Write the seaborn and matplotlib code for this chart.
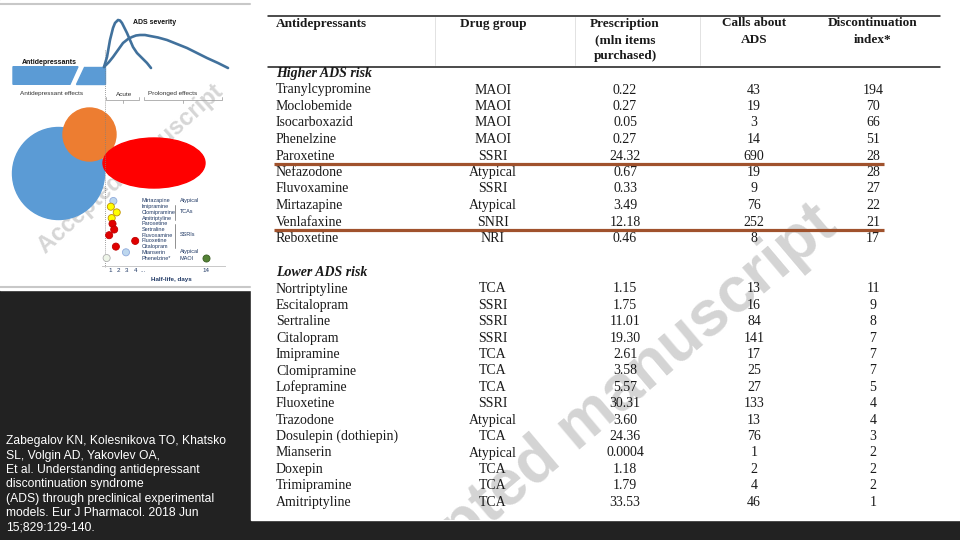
import matplotlib
matplotlib.use("Agg")
import matplotlib.pyplot as plt
import seaborn as sns
import pandas as pd
from matplotlib.patches import Rectangle, Circle, Ellipse, Polygon

# ── Table data ───────────────────────────────────────────────────────────────
header_lines = [["Antidepressants"], ["Drug group"],
                ["Prescription", "(mln items", "purchased)"],
                ["Calls about", "ADS"], ["Discontinuation", "index*"]]

higher_names = ["Tranylcypromine", "Moclobemide", "Isocarboxazid", "Phenelzine",
                "Paroxetine", "Nefazodone", "Fluvoxamine", "Mirtazapine",
                "Venlafaxine", "Reboxetine"]
higher_groups = ["MAOI", "MAOI", "MAOI", "MAOI", "SSRI", "Atypical", "SSRI",
                 "Atypical", "SNRI", "NRI"]
higher_rx = ["0.22", "0.27", "0.05", "0.27", "24.32", "0.67", "0.33", "3.49",
             "12.18", "0.46"]
higher_calls = [43, 19, 3, 14, 690, 19, 9, 76, 252, 8]
higher_index = [194, 70, 66, 51, 28, 28, 27, 22, 21, 17]

lower_names = ["Nortriptyline", "Escitalopram", "Sertraline", "Citalopram",
               "Imipramine", "Clomipramine", "Lofepramine", "Fluoxetine",
               "Trazodone", "Dosulepin (dothiepin)", "Mianserin", "Doxepin",
               "Trimipramine", "Amitriptyline"]
lower_groups = ["TCA", "SSRI", "SSRI", "SSRI", "TCA", "TCA", "TCA", "SSRI",
                "Atypical", "TCA", "Atypical", "TCA", "TCA", "TCA"]
lower_rx = ["1.15", "1.75", "11.01", "19.30", "2.61", "3.58", "5.57", "30.31",
            "3.60", "24.36", "0.0004", "1.18", "1.79", "33.53"]
lower_calls = [13, 16, 84, 141, 17, 25, 27, 133, 13, 76, 1, 2, 4, 46]
lower_index = [11, 9, 8, 7, 7, 7, 5, 4, 4, 3, 2, 2, 2, 1]

# ── Schematic data (left panel) ──────────────────────────────────────────────
acute_t = [0, 3, 6, 9, 11, 14, 16, 18, 20, 23, 26, 29, 33, 38, 43, 47]
acute_sev = [1, 11, 28, 40, 45, 48, 47.5, 45, 41, 35, 28, 21, 15, 10, 5, 0]
prolonged_t = [0, 5, 9, 14, 19, 24, 28, 32, 36, 41, 46, 54, 63, 73, 83, 93, 103, 114, 124]
prolonged_sev = [1, 6, 11, 18, 25, 29, 31, 32.5, 33, 33, 32, 30.5, 28, 24, 20, 15, 10, 5, 0]

hl_drugs = ["Mirtazapine", "Imipramine", "Clomipramine", "Amitriptyline",
            "Paroxetine", "Sertraline", "Fluvoxamine", "Fluoxetine",
            "Citalopram", "Mianserin", "Phenelzine*"]
hl_days = [1.4, 1.1, 1.8, 1.2, 1.3, 1.5, 0.9, 4.0, 1.7, 2.9, 0.6]
hl_class = ["Atypical", "TCA", "TCA", "TCA", "SSRI", "SSRI", "SSRI", "SSRI",
            "SSRI", "Atypical", "MAOI"]
maoi_effect_days = 14
hl_ticks = [1, 2, 3, 4, 14]

citation = ["Zabegalov KN, Kolesnikova TO, Khatsko",
            "SL, Volgin AD, Yakovlev OA,",
            "Et al. Understanding antidepressant",
            "discontinuation syndrome",
            "(ADS) through preclinical experimental",
            "models. Eur J Pharmacol. 2018 Jun",
            "15;829:129-140."]

sns.set_theme(style="white")
plt.rcParams["font.family"] = ["Liberation Sans", "DejaVu Sans"]

SERIF = "Liberation Serif"
INK = "#1a1a1a"
NAVY = "#1f3864"

fig = plt.figure(figsize=(9.6, 5.4), dpi=100, facecolor="#222222")
ax = fig.add_axes([0, 0, 1, 1])
ax.set_xlim(0, 960)
ax.set_ylim(540, 0)
ax.axis("off")

# white panels
ax.add_patch(Rectangle((0, 0), 251, 290, color="white", zorder=0))
ax.add_patch(Rectangle((251, 0), 709, 520, color="white", zorder=0))
ax.plot([0, 250], [4, 4], color="#c8c8c8", lw=1.5, zorder=1)
ax.plot([0, 250], [287, 287], color="#c8c8c8", lw=1.5, zorder=1)

# ── Table (own axes, same pixel coordinates, clips the watermark) ────────────
tx = fig.add_axes([251 / 960, 20 / 540, 709 / 960, 520 / 540])
tx.set_xlim(251, 960)
tx.set_ylim(520, 0)
tx.axis("off")

tx.text(581, 426, "Accepted manuscript", rotation=40.2, rotation_mode="anchor",
        ha="center", va="center", fontsize=46, fontweight="bold",
        color="#d4d4d4", zorder=1, clip_on=True)

col_x = [276, 493, 625, 754, 873]
tx.plot([268, 940], [15.5, 15.5], color=INK, lw=1.1, zorder=3)
tx.plot([268, 940], [66.5, 66.5], color=INK, lw=1.1, zorder=3)
for vx in [435, 575, 700]:
    tx.plot([vx, vx], [17, 65], color="#dddddd", lw=0.6, zorder=2)

for ci, lines in enumerate(header_lines):
    for li, line in enumerate(lines):
        tx.text(col_x[ci], 23.5 + li * 16.5, line, family=SERIF, fontweight="bold",
                fontsize=9.5, color=INK, ha="left" if ci == 0 else "center",
                va="center", zorder=3)


def draw_block(title, y_title, y0, step, names, groups, rx, calls, index):
    tx.text(276, y_title, title, family=SERIF, fontweight="bold", style="italic",
            fontsize=10, color=INK, ha="left", va="center", zorder=3)
    for i, row in enumerate(zip(names, groups, rx, calls, index)):
        y = y0 + i * step
        for ci, val in enumerate(row):
            tx.text(col_x[ci], y, str(val), family=SERIF, fontsize=10, color=INK,
                    ha="left" if ci == 0 else "center", va="center", zorder=3)


draw_block("Higher ADS risk", 74, 90, 16.5, higher_names, higher_groups,
           higher_rx, higher_calls, higher_index)
draw_block("Lower ADS risk", 272, 289, 16.4, lower_names, lower_groups,
           lower_rx, lower_calls, lower_index)

for yy in [90 + 4.5 * 16.5, 90 + 8.5 * 16.5]:
    tx.plot([274, 884], [yy, yy], color="#a0522d", lw=2.3, zorder=3,
            solid_capstyle="butt")

# ── Citation ─────────────────────────────────────────────────────────────────
for i, line in enumerate(citation):
    ax.text(6, 441 + i * 14.5, line, color="white", fontsize=8.7,
            ha="left", va="center", zorder=3)

# ── Left schematic ───────────────────────────────────────────────────────────
ax.text(131, 169, "Accepted manuscript", rotation=42, rotation_mode="anchor",
        ha="center", va="center", fontsize=17, fontweight="bold",
        color="#d6d6d6", zorder=1)

BLUE = "#5b9bd5"
ax.add_patch(Polygon([(13, 66.7), (78, 66.7), (70, 84.3), (13, 84.3)],
                     color=BLUE, zorder=2))
ax.add_patch(Polygon([(84, 66.7), (104.5, 66.7), (104.5, 84.3), (76, 84.3)],
                     color=BLUE, zorder=2))
ax.add_patch(Circle((58.5, 173.5), 46, color=BLUE, zorder=2))
ax.add_patch(Circle((89.5, 134.5), 26.5, color="#ed7d31", zorder=2))
ax.add_patch(Ellipse((154, 163), 102, 50, color="#ff0000", zorder=2))
ax.plot([104.5, 104.5], [50, 267], color="#7f7f7f", lw=0.6, ls=(0, (1, 1.5)), zorder=2)

ax.text(22, 62, "Antidepressants", fontsize=5, fontweight="bold", color="#111111",
        ha="left", va="center", zorder=3)
ax.text(133, 23, "ADS severity", fontsize=5, fontweight="bold", color="#111111",
        ha="left", va="center", zorder=3)
ax.text(20, 94, "Antidepressant effects", fontsize=4.6, color="#333333",
        ha="left", va="center", zorder=3)
ax.text(124, 94, "Acute", fontsize=4.6, color="#333333", ha="center",
        va="center", zorder=3)
ax.text(173, 94, "Prolonged effects", fontsize=4.6, color="#333333",
        ha="center", va="center", zorder=3)
for x0, x1 in [(106, 139), (144, 222)]:
    xm = (x0 + x1) / 2
    ax.plot([x0, x0, x1, x1], [97, 100, 100, 97], color="#a6a6a6", lw=0.6, zorder=2)
    ax.plot([xm, xm], [100, 103], color="#a6a6a6", lw=0.6, zorder=2)

# ADS severity curves
ax_c = fig.add_axes([104 / 960, 1 - 68 / 540, 124 / 960, 48 / 540])
ax_c.patch.set_alpha(0)
sns.lineplot(x=acute_t, y=acute_sev, sort=False, estimator=None, color="#41719c",
             lw=1.9, ax=ax_c)
sns.lineplot(x=prolonged_t, y=prolonged_sev, sort=False, estimator=None,
             color="#41719c", lw=1.9, ax=ax_c)
ax_c.set_xlim(0, 124)
ax_c.set_ylim(0, 48)
ax_c.axis("off")
for ln in ax_c.lines:
    ln.set_clip_on(False)


# half-life dot chart (x axis broken between 4 and 14 days)
def day_pos(d):
    return d if d <= 5 else 12.4 - (14 - d) * 0.5


ax_h = fig.add_axes([101.6 / 960, 1 - 266 / 540, 123.4 / 960, 71 / 540])
ax_h.patch.set_alpha(0)
hl = pd.DataFrame({"drug": hl_drugs, "pos": [day_pos(d) for d in hl_days],
                   "row": range(len(hl_drugs)), "cls": hl_class})
fill = {"Atypical": "#bdd7ee", "TCA": "#ffff00", "SSRI": "#e00000", "MAOI": "#eef5e8"}
edge = {"Atypical": "#8faadc", "TCA": "#bf9000", "SSRI": "#c00000", "MAOI": "#b0b0b0"}
sns.scatterplot(data=hl, x="pos", y="row", hue="cls", palette=fill, s=26,
                edgecolor=[edge[c] for c in hl_class], linewidth=0.6,
                legend=False, ax=ax_h, clip_on=False, zorder=3)
sns.scatterplot(x=[day_pos(maoi_effect_days)], y=[len(hl_drugs) - 1],
                color="#548235", s=26, edgecolor="#3a5d24", linewidth=0.6,
                legend=False, ax=ax_h, clip_on=False, zorder=3)
ax_h.set_xlim(0, 14.69)
ax_h.set_ylim(11.4, -1.05)
ax_h.set_xticks([day_pos(d) for d in hl_ticks] + [4.9])
ax_h.set_xticklabels([str(d) for d in hl_ticks] + ["..."])
ax_h.tick_params(axis="x", length=0, pad=1.5, labelsize=4.5, labelcolor=NAVY)
ax_h.set_yticks([])
ax_h.set_xlabel("")
ax_h.set_ylabel("")
for side in ["left", "top", "right"]:
    ax_h.spines[side].set_visible(False)
ax_h.spines["bottom"].set_color("#c8c8c8")
ax_h.spines["bottom"].set_linewidth(0.7)
ax_h.text(8.3, 13.7, "Half-life, days", fontsize=4.5, fontweight="bold",
          color=NAVY, ha="center", va="center", clip_on=False)
for i, name in enumerate(hl_drugs):
    ax_h.text(4.8, i, name, fontsize=4, color=NAVY, ha="left", va="center",
              clip_on=False)
for lab, r in [("Atypical", 0), ("TCAs", 1.9), ("SSRIs", 5.9), ("Atypical", 8.9),
               ("MAOI", 10)]:
    ax_h.text(9.33, r, lab, fontsize=4, color=NAVY, ha="left", va="center",
              clip_on=False)
for r0, r1 in [(0.7, 3.3), (4.0, 8.2)]:
    ax_h.plot([8.74, 8.74], [r0, r1], color="#7f7f7f", lw=0.6, clip_on=False)

fig.savefig("out.png", dpi=100, facecolor=fig.get_facecolor())
